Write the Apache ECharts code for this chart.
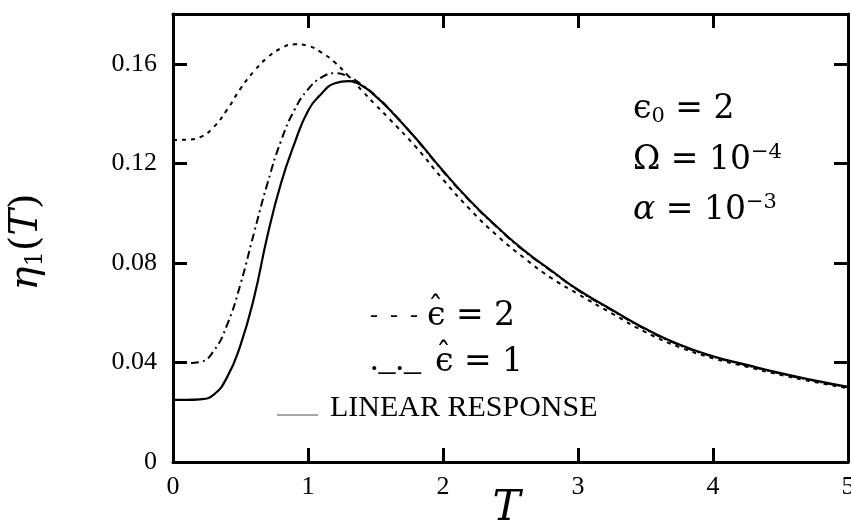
<!DOCTYPE html>
<html>
<head>
<meta charset="utf-8">
<script src="https://cdn.jsdelivr.net/npm/echarts@6/dist/echarts.min.js"></script>
<style>html,body{margin:0;padding:0;background:#fff}#c{width:851px;height:522px}</style>
</head>
<body>
<div id="c"></div>
<script>
const T = [0, 0.1, 0.2, 0.3, 0.4, 0.5, 0.6, 0.7, 0.8, 0.9, 1.0, 1.1, 1.2, 1.3, 1.4, 1.5, 1.6, 1.8, 2.0, 2.2, 2.4, 2.6, 2.8, 3.0, 3.25, 3.5, 3.75, 4.0, 4.25, 4.5, 4.75, 5.0];
const linearResponse = [0.025, 0.025, 0.0252, 0.027, 0.034, 0.047, 0.066, 0.091, 0.112, 0.128, 0.141, 0.148, 0.1522, 0.153, 0.1512, 0.147, 0.1418, 0.130, 0.117, 0.105, 0.0945, 0.085, 0.077, 0.0692, 0.0612, 0.0535, 0.0472, 0.0425, 0.039, 0.0357, 0.0328, 0.0302];
const epsHat1 = [0.0398, 0.0398, 0.0402, 0.0445, 0.055, 0.0715, 0.092, 0.112, 0.129, 0.1415, 0.1497, 0.1545, 0.1562, 0.1548, 0.1515, 0.1472, 0.142, 0.1298, 0.1168, 0.1048, 0.0943, 0.0848, 0.0768, 0.069, 0.061, 0.0533, 0.047, 0.0423, 0.0388, 0.0355, 0.0326, 0.03];
const epsHat2 = [0.1294, 0.1295, 0.1305, 0.1345, 0.1415, 0.150, 0.157, 0.1625, 0.1662, 0.1678, 0.1672, 0.1645, 0.1605, 0.155, 0.1492, 0.1435, 0.138, 0.1265, 0.1135, 0.1015, 0.091, 0.082, 0.074, 0.0675, 0.0597, 0.0522, 0.0462, 0.0417, 0.0383, 0.035, 0.0322, 0.0296];
const yTicks = [0, 0.04, 0.08, 0.12, 0.16];
const xTicks = [0, 1, 2, 3, 4, 5];

const SERIF = '"Liberation Serif", "DejaVu Serif", serif';
const MATH = '"DejaVu Serif", "Liberation Serif", serif';
const chart = echarts.init(document.getElementById('c'), null, {renderer: 'canvas'});
const axLine = {show: true, onZero: false, lineStyle: {color: '#000', width: 3}};
const axTick = {show: true, inside: true, length: 14, lineStyle: {color: '#000', width: 3}};
const pairs = arr => T.map((t, i) => [t, arr[i]]);

chart.setOption({
  animation: false,
  backgroundColor: '#fff',
  grid: {left: 173, right: 3, top: 14, bottom: 60, containLabel: false, outerBoundsMode: 'none'},
  xAxis: [
    {type: 'value', min: 0, max: 5, interval: 1, position: 'bottom',
     axisLine: axLine, axisTick: axTick, splitLine: {show: false},
     axisLabel: {margin: 12, color: '#000', fontFamily: SERIF, fontSize: 26,
       formatter: v => xTicks.includes(v) ? String(v) : ''},
     name: 'T', nameLocation: 'middle', nameGap: 26, nameMoveOverlap: false,
     nameTextStyle: {color: '#000', fontFamily: MATH, fontStyle: 'italic', fontSize: 42, padding: [0, 8, 0, 0]}},
    {type: 'value', min: 0, max: 5, interval: 1, position: 'top',
     axisLine: axLine, axisTick: axTick, splitLine: {show: false}, axisLabel: {show: false}}
  ],
  yAxis: [
    {type: 'value', min: 0, max: 0.18, interval: 0.04, position: 'left',
     axisLine: axLine, axisTick: axTick, splitLine: {show: false},
     axisLabel: {margin: 16, color: '#000', fontFamily: SERIF, fontSize: 26,
       formatter: v => {
         const t = yTicks.find(y => Math.abs(y - v) < 1e-9);
         if (t === undefined) return '';
         return t === 0 ? '0' : t.toFixed(2);
       }},
     name: '{i|η}{s|1}{n|(}{i|T}{n|)}', nameLocation: 'middle', nameRotate: 90, nameGap: 124,
     nameTextStyle: {color: '#000', fontFamily: MATH, fontSize: 38, padding: [0, 8, 0, 0],
       rich: {
         i: {fontFamily: MATH, fontStyle: 'italic', fontSize: 40, color: '#000', lineHeight: 44},
         n: {fontFamily: MATH, fontSize: 40, color: '#000', lineHeight: 44},
         s: {fontFamily: MATH, fontSize: 24, color: '#000', lineHeight: 44, padding: [18, 0, 0, 0]}
       }}},
    {type: 'value', min: 0, max: 0.18, interval: 0.04, position: 'right',
     axisLine: axLine, axisTick: axTick, splitLine: {show: false}, axisLabel: {show: false}}
  ],
  series: [
    {name: 'linear', type: 'line', data: pairs(linearResponse), showSymbol: false,
     smooth: 0.5, lineStyle: {color: '#000', width: 2.2, type: 'solid'}},
    {name: 'eps1', type: 'line', data: pairs(epsHat1), showSymbol: false,
     smooth: 0.5, lineStyle: {color: '#000', width: 2, type: [8, 4, 2, 4]}},
    {name: 'eps2', type: 'line', data: pairs(epsHat2), showSymbol: false,
     smooth: 0.5, lineStyle: {color: '#000', width: 2, type: [4, 5]}}
  ],
  graphic: [
    {type: 'text', left: 633, top: 92, style: {
      text: '{m|ϵ}{sub|0}{m| = 2}',
      rich: {m: {fontFamily: MATH, fontSize: 33, fill: '#000', lineHeight: 40},
             sub: {fontFamily: MATH, fontSize: 21, fill: '#000', lineHeight: 40, padding: [14, 0, 0, 0]}}}},
    {type: 'text', left: 633, top: 142, style: {
      text: '{m|Ω = 10}{sup|−4}',
      rich: {m: {fontFamily: MATH, fontSize: 33, fill: '#000', lineHeight: 40},
             sup: {fontFamily: MATH, fontSize: 21, fill: '#000', lineHeight: 40, padding: [0, 0, 16, 0]}}}},
    {type: 'text', left: 633, top: 192, style: {
      text: '{mi|α}{m| = 10}{sup|−3}',
      rich: {m: {fontFamily: MATH, fontSize: 33, fill: '#000', lineHeight: 40},
             mi: {fontFamily: MATH, fontSize: 33, fontStyle: 'italic', fill: '#000', lineHeight: 40},
             sup: {fontFamily: MATH, fontSize: 21, fill: '#000', lineHeight: 40, padding: [0, 0, 16, 0]}}}},
    {type: 'text', left: 370, top: 304, style: {
      text: '-  -  -', fontFamily: SERIF, fontSize: 24, fill: '#000'}},
    {type: 'text', left: 427, top: 296, style: {
      text: 'ϵ = 2', fontFamily: MATH, fontSize: 33, fill: '#000', lineHeight: 40}},
    {type: 'text', left: 428, top: 294, style: {
      text: 'ˆ', fontFamily: MATH, fontSize: 30, fill: '#000'}},
    {type: 'text', left: 370, top: 344, style: {
      text: '._._', fontFamily: SERIF, fontSize: 34, fill: '#000'}},
    {type: 'text', left: 435, top: 342, style: {
      text: 'ϵ = 1', fontFamily: MATH, fontSize: 33, fill: '#000', lineHeight: 40}},
    {type: 'text', left: 436, top: 340, style: {
      text: 'ˆ', fontFamily: MATH, fontSize: 30, fill: '#000'}},
    {type: 'line', shape: {x1: 277, y1: 415, x2: 318, y2: 415}, style: {stroke: '#888', lineWidth: 1.5}},
    {type: 'text', left: 330, top: 393, style: {
      text: 'LINEAR RESPONSE', fontFamily: SERIF, fontSize: 30, fill: '#000'}}
  ]
});
</script>
</body>
</html>
